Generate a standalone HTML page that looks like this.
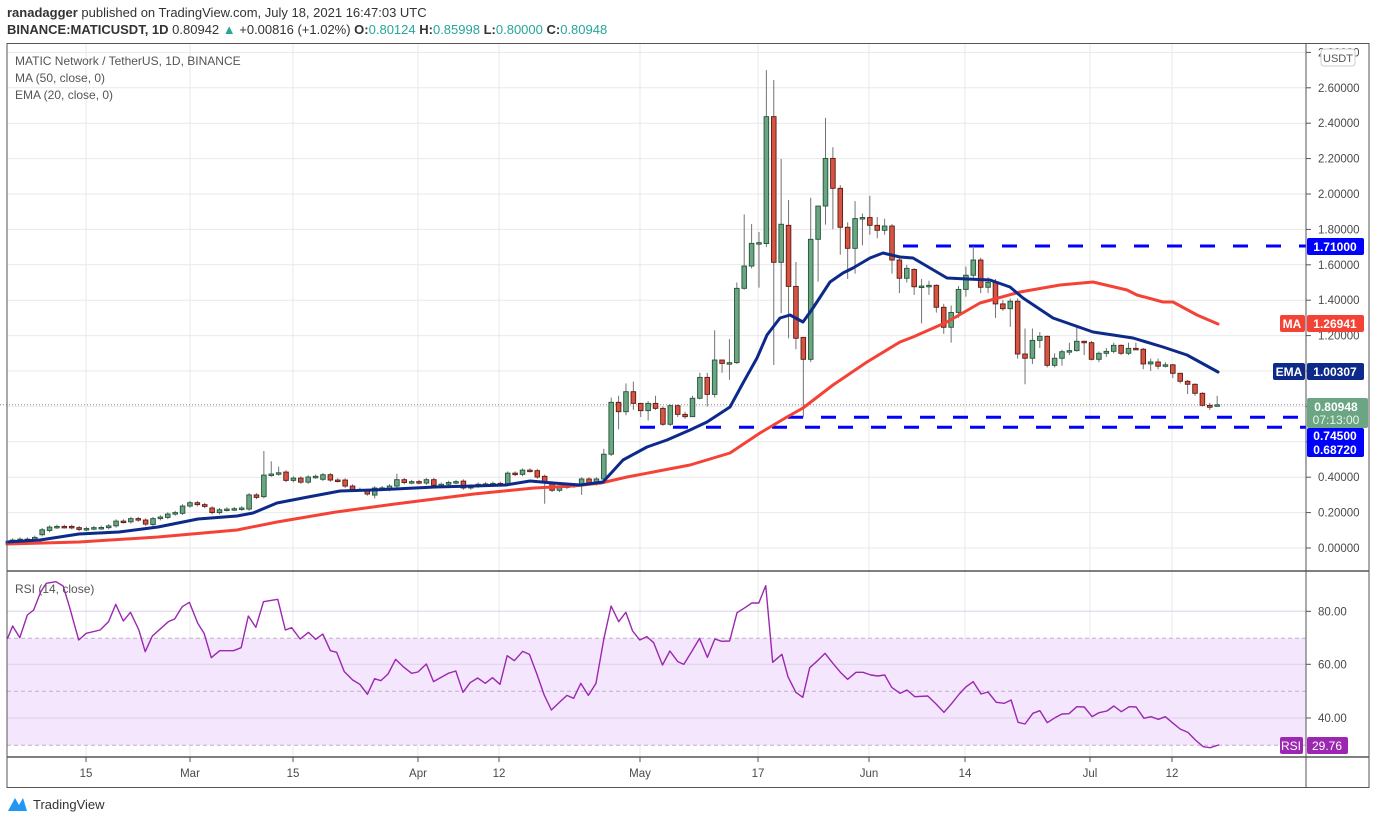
<!DOCTYPE html>
<html><head><meta charset="utf-8">
<style>
html,body{margin:0;padding:0;background:#fff;}
svg{display:block;font-family:"Liberation Sans",sans-serif;}
</style></head>
<body>
<svg id="c" width="1376" height="823" viewBox="0 0 1376 823" xmlns="http://www.w3.org/2000/svg">
<rect width="1376" height="823" fill="#fff"/>
<!-- header -->
<text x="7" y="17" font-size="13" fill="#333"><tspan font-weight="bold">ranadagger</tspan> published on TradingView.com, July 18, 2021 16:47:03 UTC</text>
<text x="7" y="34" font-size="13" fill="#333"><tspan font-weight="bold">BINANCE:MATICUSDT, 1D</tspan> 0.80942 <tspan fill="#26a69a">▲</tspan> +0.00816 (+1.02%) <tspan font-weight="bold">O:</tspan><tspan fill="#26a69a">0.80124</tspan> <tspan font-weight="bold">H:</tspan><tspan fill="#26a69a">0.85998</tspan> <tspan font-weight="bold">L:</tspan><tspan fill="#26a69a">0.80000</tspan> <tspan font-weight="bold">C:</tspan><tspan fill="#26a69a">0.80948</tspan></text>
<g id="grid"></g>
<!-- RSI band -->
<rect x="7" y="638.3" width="1299" height="107" fill="#f3e6fd"/>
<g id="rsigrid"></g>
<g id="lines"></g>
<g id="cand"></g>
<g id="ma"></g>
<!-- frame -->
<rect x="7" y="43.5" width="1362" height="744" fill="none" stroke="#555" stroke-width="1"/>
<line x1="7" y1="571" x2="1369" y2="571" stroke="#555" stroke-width="1.5"/>
<line x1="7" y1="757" x2="1369" y2="757" stroke="#555" stroke-width="1.5"/>
<line x1="1306" y1="43" x2="1306" y2="787" stroke="#555" stroke-width="1"/>
<g id="axis" font-size="11.5" fill="#4a4a4a"></g>
<!-- legend -->
<text x="15" y="65" font-size="12" fill="#555">MATIC Network / TetherUS, 1D, BINANCE</text>
<text x="15" y="82" font-size="12" fill="#555">MA (50, close, 0)</text>
<text x="15" y="99" font-size="12" fill="#555">EMA (20, close, 0)</text>
<text x="15" y="593" font-size="12" fill="#555">RSI (14, close)</text>
<!-- USDT -->
<rect x="1321" y="49" width="34" height="17" rx="3" fill="#fff" stroke="#ccc"/>
<text x="1338" y="62" font-size="11" fill="#555" text-anchor="middle">USDT</text>
<!-- price labels -->
<rect x="1307" y="238" width="57" height="17" rx="2" fill="#0000ff"/>
<text x="1335" y="251" font-size="12" fill="#fff" text-anchor="middle" font-weight="bold">1.71000</text>
<rect x="1280" y="315" width="25" height="17" rx="2" fill="#f44336"/>
<text x="1292" y="328" font-size="12" fill="#fff" text-anchor="middle" font-weight="bold">MA</text>
<rect x="1307" y="315" width="57" height="17" rx="2" fill="#f44336"/>
<text x="1335" y="328" font-size="12" fill="#fff" text-anchor="middle" font-weight="bold">1.26941</text>
<rect x="1273" y="363" width="32" height="17" rx="2" fill="#0d2a8a"/>
<text x="1289" y="376" font-size="12" fill="#fff" text-anchor="middle" font-weight="bold">EMA</text>
<rect x="1307" y="363" width="57" height="17" rx="2" fill="#0d2a8a"/>
<text x="1335" y="376" font-size="12" fill="#fff" text-anchor="middle" font-weight="bold">1.00307</text>
<rect x="1307" y="398" width="61" height="30" rx="2" fill="#6ba583"/>
<text x="1336" y="411" font-size="12" fill="#fff" text-anchor="middle" font-weight="bold">0.80948</text>
<text x="1336" y="424" font-size="12" fill="#e8f5ec" text-anchor="middle">07:13:00</text>
<rect x="1307" y="428" width="57" height="29" rx="2" fill="#0000ff"/>
<text x="1335" y="440" font-size="12" fill="#fff" text-anchor="middle" font-weight="bold">0.74500</text>
<text x="1335" y="454" font-size="12" fill="#fff" text-anchor="middle" font-weight="bold">0.68720</text>
<!-- RSI labels -->
<rect x="1280" y="737" width="23" height="17" rx="2" fill="#9c27b0"/>
<text x="1291" y="750" font-size="12" fill="#fff" text-anchor="middle">RSI</text>
<rect x="1307" y="737" width="41" height="17" rx="2" fill="#9c27b0"/>
<text x="1327" y="750" font-size="12" fill="#fff" text-anchor="middle">29.76</text>
<!-- logo -->
<path d="M8 811 L15 798 L19 805 L23 798 L27 811 Z" fill="#2196f3"/>
<text x="33" y="809" font-size="13" fill="#333">TradingView</text>
</svg>
<script>
(function(){
var NS="http://www.w3.org/2000/svg";
function el(p,t,a,txt){var e=document.createElementNS(NS,t);for(var k in a)e.setAttribute(k,a[k]);if(txt!=null)e.textContent=txt;p.appendChild(e);return e;}
var Y=function(p){return 548-177*p;};
var X=function(i){return 12.6+i*7.39;};
var grid=document.getElementById('grid'),rg=document.getElementById('rsigrid'),ax=document.getElementById('axis');
var vx=[86,190,293,418,499,640,758,869,965,1090,1172],vl=["15","Mar","15","Apr","12","May","17","Jun","14","Jul","12"];
for(var p=0;p<=2.81;p+=0.2){var y=Y(p);
 el(grid,'line',{x1:7,y1:y,x2:1306,y2:y,stroke:'#e9e9e9','stroke-width':1});
 el(ax,'line',{x1:1306,y1:y,x2:1311,y2:y,stroke:'#555'});
 if(p<2.7) el(ax,'text',{x:1318,y:y+4},p.toFixed(5));
}
el(ax,'text',{x:1318,y:Y(2.8)+4},"2.80000");
vx.forEach(function(x,k){
 el(grid,'line',{x1:x,y1:43,x2:x,y2:571,stroke:'#e9e9e9'});
 el(grid,'line',{x1:x,y1:571,x2:x,y2:757,stroke:'#e9e9e9'});
 el(ax,'line',{x1:x,y1:757,x2:x,y2:762,stroke:'#555'});
 el(ax,'text',{x:x,y:777,'text-anchor':'middle'},vl[k]);
});
[[80,611.3],[60,664.3],[40,718]].forEach(function(r){
 el(rg,'line',{x1:7,y1:r[1],x2:1306,y2:r[1],stroke:'#ddd0e6'});
 el(ax,'line',{x1:1306,y1:r[1],x2:1311,y2:r[1],stroke:'#555'});
 el(ax,'text',{x:1318,y:r[1]+4},r[0].toFixed(2));
});
[638.3,691.3,745.3].forEach(function(y){el(rg,'line',{x1:7,y1:y,x2:1306,y2:y,stroke:'#bfb0c8','stroke-dasharray':'4 3'});});
// dashed levels
var L=document.getElementById('lines');
el(L,'line',{x1:0,y1:404.8,x2:1306,y2:404.8,stroke:'#888','stroke-dasharray':'1 2'});
function dash(x0,y){el(L,'line',{x1:x0,y1:y,x2:1306,y2:y,stroke:'#0000ff','stroke-width':3,'stroke-dasharray':'15 18'});}
dash(903,246);dash(788,417.3);dash(640,427.3);
// candles
var r1=[[.035,.045],[.045,.05],[.05,.048],[.048,.06],[.075,.103],[.099,.118],[.118,.122],[.122,.12],[.122,.115],[.115,.105],
[.105,.11],[.11,.115],[.113,.116],[.115,.125],[.125,.152],[.152,.148],[.148,.166],[.166,.158],[.158,.135],[.133,.166],
[.166,.175],[.173,.192],[.192,.20],[.196,.237],[.237,.256],[.256,.245],[.245,.235],[.226,.20],[.20,.216],[.216,.22],
[.22,.222],[.22,.226],[.22,.30],[.30,.286],[.29,.412],[.412,.418],[.418,.425],[.429,.382],[.382,.395],[.395,.372],
[.372,.401],[.401,.405],[.388,.414],[.414,.384],[.384,.38],[.384,.35],[.35,.331],[.331,.33],[.324,.305],[.299,.339],
[.339,.34],[.33,.35],[.35,.386],[.386,.37],[.37,.375],[.375,.37],[.367,.386],[.386,.354],[.354,.36],[.36,.37],
[.37,.375],[.378,.339],[.339,.35],[.35,.36],[.362,.358],[.358,.365],[.365,.36],[.363,.423],[.423,.416],[.416,.44],
[.44,.437],[.437,.401],[.405,.367],[.367,.326],[.326,.344],[.344,.35],[.35,.357],[.357,.39],[.39,.365],[.363,.39]];
var C=r1.map(function(a){return [a[0],Math.max(a[0],a[1])+.01,Math.min(a[0],a[1])-.01,a[1]];});
var ov={34:[null,.548],35:[null,.49],36:[null,.46],72:[.25,null],77:[.30,null],49:[.28,null],52:[null,.42]};
for(var k in ov){if(ov[k][0]!=null)C[k][2]=ov[k][0];if(ov[k][1]!=null)C[k][1]=ov[k][1];}
var r2=[[.39,.56,.37,.53],[.53,.85,.52,.823],[.823,.86,.67,.77],[.77,.93,.75,.883],[.883,.94,.78,.817],[.817,.82,.74,.776],[.776,.83,.72,.817],[.817,.86,.78,.789],[.789,.80,.69,.699],[.699,.81,.69,.804],
[.804,.81,.74,.755],[.755,.77,.73,.742],[.742,.86,.74,.846],[.846,.99,.84,.964],[.964,.99,.80,.868],[.868,1.23,.85,1.062],[1.062,1.06,.99,1.043],[1.043,1.18,.95,1.047],[1.047,1.50,1.04,1.467],[1.467,1.885,1.46,1.593],
[1.593,1.83,1.58,1.721],[1.721,1.785,1.471,1.725],[1.72,2.70,1.70,2.437],[2.437,2.644,1.034,1.614],[1.614,2.198,1.326,1.829],[1.823,1.966,1.185,1.478],[1.478,1.616,1.123,1.185],[1.19,1.19,.738,1.066],[1.066,1.979,1.05,1.744],[1.744,1.932,1.505,1.932],
[1.932,2.43,1.827,2.201],[2.201,2.264,1.80,2.032],[2.032,2.05,1.657,1.812],[1.812,1.84,1.52,1.693],[1.693,1.96,1.55,1.861],[1.861,1.89,1.71,1.867],[1.867,1.99,1.77,1.823],[1.823,1.87,1.75,1.795],[1.795,1.86,1.77,1.819],[1.819,1.83,1.55,1.627],
[1.627,1.64,1.44,1.524],[1.524,1.60,1.50,1.58],[1.574,1.58,1.43,1.476],[1.476,1.52,1.269,1.48],[1.476,1.51,1.43,1.484],[1.484,1.49,1.33,1.36],[1.36,1.38,1.21,1.247],[1.247,1.37,1.16,1.331],[1.331,1.48,1.30,1.461],[1.461,1.59,1.42,1.541],
[1.541,1.706,1.52,1.627],[1.627,1.64,1.44,1.473],[1.473,1.53,1.44,1.501],[1.501,1.52,1.30,1.379],[1.379,1.40,1.34,1.352],[1.352,1.41,1.25,1.394],[1.394,1.41,1.07,1.096],[1.096,1.24,.925,1.072],[1.072,1.24,1.04,1.173],[1.173,1.22,1.13,1.196],
[1.196,1.20,1.02,1.032],[1.032,1.10,1.02,1.072],[1.072,1.12,1.03,1.109],[1.109,1.16,1.09,1.115],[1.115,1.25,1.11,1.168],[1.168,1.17,1.09,1.16],[1.16,1.17,1.06,1.066],[1.066,1.11,1.05,1.10],[1.10,1.13,1.08,1.111],[1.111,1.16,1.10,1.145],
[1.145,1.15,1.09,1.10],[1.10,1.16,1.09,1.128],[1.128,1.16,1.12,1.123],[1.123,1.13,1.01,1.04],[1.04,1.07,1.00,1.051],[1.051,1.07,1.01,1.027],[1.027,1.05,1.02,1.035],[1.035,1.04,.96,.987],[.987,.99,.93,.942],[.942,.95,.87,.925],
[.925,.93,.86,.874],[.874,.88,.80,.806],[.806,.82,.78,.795],[.801,.86,.80,.809]];
C=C.concat(r2);
var G=document.getElementById('cand');
C.forEach(function(c,i){var x=X(i),o=c[0],h=c[1],l=c[2],cl=c[3],up=cl>=o;
 el(G,'line',{x1:x,y1:Y(h),x2:x,y2:Y(l),stroke:'#737375','stroke-width':1});
 var t=Y(Math.max(o,cl)),b=Y(Math.min(o,cl));if(b-t<1.5){b=t+1.5;}
 el(G,'rect',{x:x-2.3,y:t,width:4.6,height:b-t,fill:up?'#6ba583':'#d75442',stroke:up?'#225437':'#5b1a13','stroke-width':0.9});
});
var M=document.getElementById('ma');
var ema=[[7,542],[40,540],[79,534],[119,532],[158,527],[198,519],[237,516],[253,513],[277,503],[308,497],[340,491],[372,490],[395,489],[435,487],[474,486],[506,485],[530,481],[553,483],[580,485],[603,482],[623,460],[647,447],[667,440],[690,430],[707,422],[730,407],[743,383],[757,358],[767,335],[780,318],[790,315],[803,322],[813,308],[830,282],[843,273],[853,268],[870,258],[883,253],[900,257],[913,258],[947,278],[967,279],[990,280],[1010,287],[1023,298],[1053,318],[1093,332],[1133,338],[1163,347],[1187,355],[1218,372]];
var ma=[[7,544],[79,542],[158,537],[237,530],[277,522],[336,512],[395,504],[474,494],[534,488],[573,486],[601,483],[627,477],[690,465],[730,453],[760,433],[787,417],[803,408],[833,385],[867,362],[900,342],[913,337],[947,322],[980,303],[1020,292],[1060,285],[1093,282],[1127,290],[1137,295],[1163,302],[1173,302],[1197,315],[1218,324]];
function pl(pts,col,w){el(M,'polyline',{points:pts.map(function(p){return p[0]+','+p[1];}).join(' '),fill:'none',stroke:col,'stroke-width':w,'stroke-linejoin':'round','stroke-linecap':'round'});}
pl(ma,'#f44336',3);pl(ema,'#0d2a8a',3);
var z7=[[18,205],[30,168],[47,203],[65,135],[80,120],[97,65],[110,40],[133,35],[150,48],[165,110],[187,210],[205,190],[238,180],[258,155],[275,103],[293,153],[310,127],[330,180],[345,245],[362,198],[400,155],[415,147],[433,110],[450,97],[470,160],[485,190],[502,263],[522,242],[555,242],[573,233],[590,138],[608,172],[626,95],[660,88],[678,180],[693,173],[713,207],[733,187],[750,208],[767,192],[785,242],[800,247],[818,305],[838,330],[855,343],[873,373],[890,326],[905,332],[922,312],[940,268],[958,290],[978,310],[993,306],[1013,282],[1030,335],[1065,310],[1083,303],[1100,367],[1117,338],[1135,324],[1153,340],[1170,323],[1188,343],[1205,257],[1222,272],[1242,244],[1258,253],[1275,310],[1293,375],[1310,420],[1330,396],[1347,376],[1363,385],[1380,340],[1398,376],[1416,340],[1435,205],[1452,108],[1470,155],[1487,127],[1503,183],[1520,210],[1537,200],[1553,218]];
var z8=[[27,285],[43,243],[60,275],[73,283],[90,245],[107,205],[124,262],[140,207],[155,214],[172,213],[188,128],[205,113],[220,99],[235,99],[250,47],[265,277],[285,253],[298,320],[315,367],[330,382],[345,293],[362,272],[378,250],[395,280],[412,308],[427,328],[445,307],[460,307],[477,315],[492,318],[507,315],[522,352],[540,370],[555,360],[572,380],[600,378],[618,402],[635,427],[652,400],[668,372],[683,350],[698,335],[715,372],[730,366],[748,397],[765,400],[780,390],[795,457],[810,462],[827,430],[842,422],[858,458],[875,443],[890,432],[905,431],[922,410],[938,411],[955,440],[970,428],[987,423],[1002,408],[1018,425],[1035,410],[1050,411],[1067,445],[1082,440],[1098,448],[1113,440],[1130,460],[1145,477],[1162,487],[1178,510],[1195,530],[1210,533],[1228,525]];
var rp=[[7,638]].concat(z7.map(function(p){return [p[0]/2.376,570+p[1]/3];})).concat(z8.map(function(p){return [650+p[0]/2.16,570+p[1]/3];}));
pl(rp,'#9c27b0',1.4);
})();
</script>
</body></html>
